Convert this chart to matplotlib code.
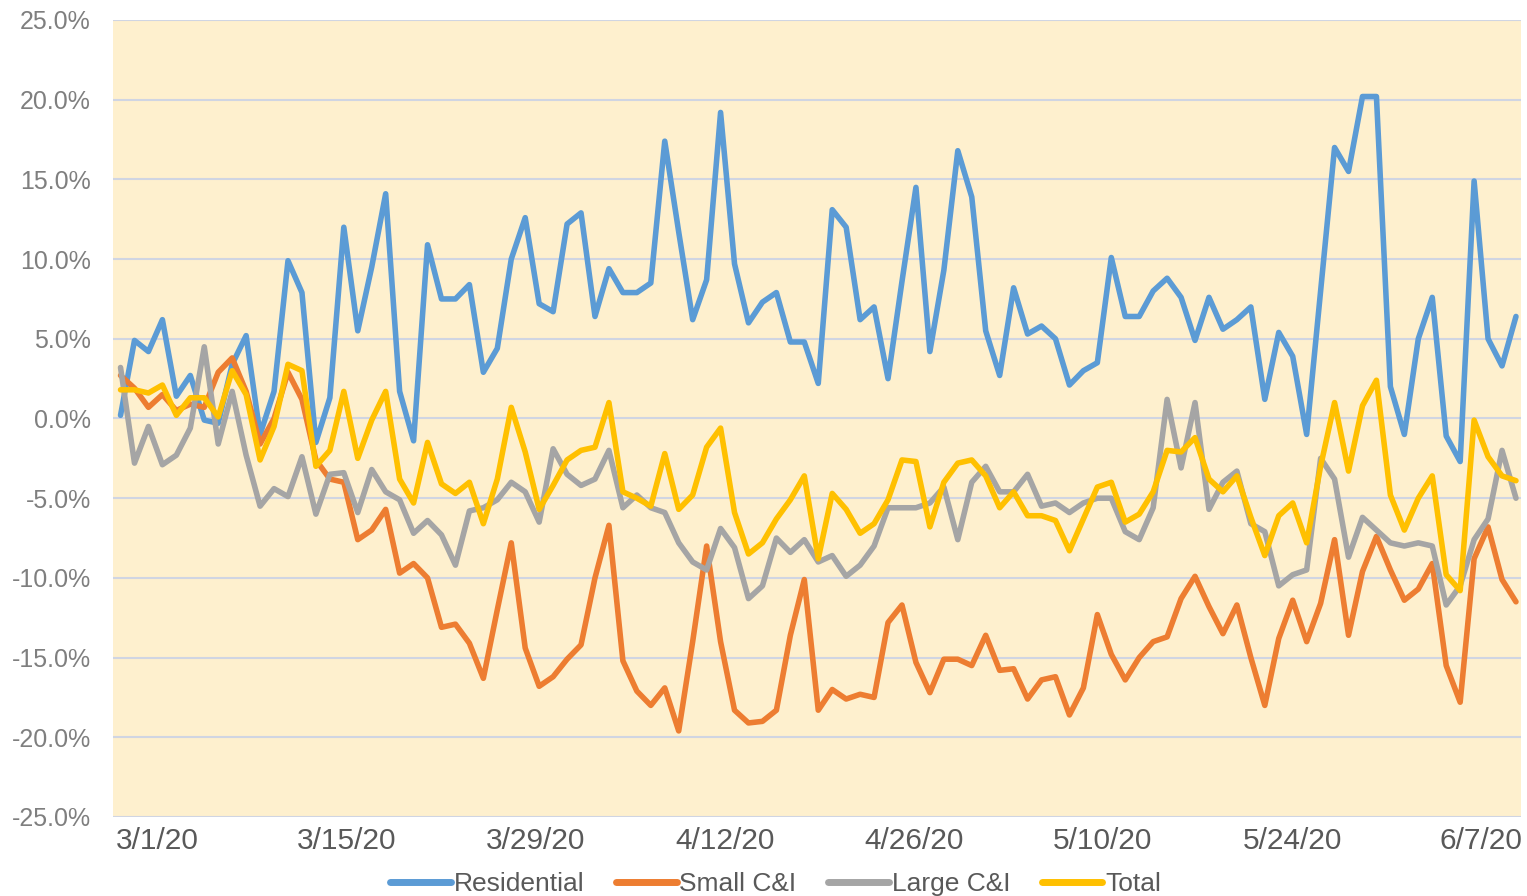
import numpy as np
import matplotlib.pyplot as plt

# daily change vs. baseline (%)
residential = [0.2, 4.9, 4.2, 6.2, 1.4, 2.7, -0.1, -0.3, 3.4, 5.2,
               -1.0, 1.7, 9.9, 7.9, -1.5, 1.3, 12.0, 5.5, 9.5, 14.1,
               1.7, -1.4, 10.9, 7.5, 7.5, 8.4, 2.9, 4.4, 10.0, 12.6,
               7.2, 6.7, 12.2, 12.9, 6.4, 9.4, 7.9, 7.9, 8.5, 17.4,
               11.7, 6.2, 8.7, 19.2, 9.7, 6.0, 7.3, 7.9, 4.8, 4.8,
               2.2, 13.1, 12.0, 6.2, 7.0, 2.5, 8.6, 14.5, 4.2, 9.3,
               16.8, 13.9, 5.5, 2.7, 8.2, 5.3, 5.8, 5.0, 2.1, 3.0,
               3.5, 10.1, 6.4, 6.4, 8.0, 8.8, 7.6, 4.9, 7.6, 5.6,
               6.2, 7.0, 1.2, 5.4, 3.9, -1.0, 8.0, 17.0, 15.5, 20.2,
               20.2, 2.0, -1.0, 5.0, 7.6, -1.1, -2.7, 14.9, 5.0, 3.3,
               6.4]

small_ci = [2.7, 1.9, 0.7, 1.5, 0.5, 0.9, 0.7, 2.9, 3.8, 1.7,
            -1.6, 0.0, 2.9, 1.2, -2.6, -3.8, -4.0, -7.6, -7.0, -5.7,
            -9.7, -9.1, -10.0, -13.1, -12.9, -14.1, -16.3, -12.0, -7.8, -14.4,
            -16.8, -16.2, -15.1, -14.2, -10.0, -6.7, -15.2, -17.1, -18.0, -16.9,
            -19.6, -14.0, -8.0, -14.0, -18.3, -19.1, -19.0, -18.3, -13.6, -10.1,
            -18.3, -17.0, -17.6, -17.3, -17.5, -12.8, -11.7, -15.3, -17.2, -15.1,
            -15.1, -15.5, -13.6, -15.8, -15.7, -17.6, -16.4, -16.2, -18.6, -16.9,
            -12.3, -14.8, -16.4, -15.0, -14.0, -13.7, -11.3, -9.9, -11.8, -13.5,
            -11.7, -15.0, -18.0, -13.8, -11.4, -14.0, -11.6, -7.6, -13.6, -9.6,
            -7.4, -9.5, -11.4, -10.7, -9.1, -15.5, -17.8, -8.8, -6.8, -10.1,
            -11.5]

large_ci = [3.2, -2.8, -0.5, -2.9, -2.3, -0.6, 4.5, -1.6, 1.7, -2.3,
            -5.5, -4.4, -4.9, -2.4, -6.0, -3.5, -3.4, -5.9, -3.2, -4.6,
            -5.1, -7.2, -6.4, -7.3, -9.2, -5.8, -5.6, -5.1, -4.0, -4.6,
            -6.5, -1.9, -3.5, -4.2, -3.8, -2.0, -5.6, -4.8, -5.6, -5.9,
            -7.8, -9.0, -9.5, -6.9, -8.1, -11.3, -10.5, -7.5, -8.4, -7.6,
            -9.0, -8.6, -9.9, -9.2, -8.0, -5.6, -5.6, -5.6, -5.3, -4.3,
            -7.6, -4.0, -3.0, -4.6, -4.6, -3.5, -5.5, -5.3, -5.9, -5.3,
            -5.0, -5.0, -7.1, -7.6, -5.6, 1.2, -3.1, 1.0, -5.7, -4.0,
            -3.3, -6.6, -7.1, -10.5, -9.8, -9.5, -2.5, -3.8, -8.7, -6.2,
            -7.0, -7.8, -8.0, -7.8, -8.0, -11.7, -10.5, -7.6, -6.3, -2.0,
            -5.0]

total = [1.8, 1.8, 1.6, 2.1, 0.2, 1.3, 1.3, 0.1, 3.0, 1.5,
         -2.6, -0.5, 3.4, 3.0, -3.0, -2.0, 1.7, -2.5, -0.1, 1.7,
         -3.8, -5.3, -1.5, -4.1, -4.7, -4.0, -6.6, -3.8, 0.7, -2.1,
         -5.7, -4.2, -2.6, -2.0, -1.8, 1.0, -4.6, -5.0, -5.5, -2.2,
         -5.7, -4.8, -1.8, -0.6, -5.9, -8.5, -7.8, -6.3, -5.1, -3.6,
         -8.8, -4.7, -5.7, -7.2, -6.6, -5.1, -2.6, -2.7, -6.8, -4.0,
         -2.8, -2.6, -3.6, -5.6, -4.6, -6.1, -6.1, -6.4, -8.3, -6.3,
         -4.3, -4.0, -6.5, -6.0, -4.6, -2.0, -2.1, -1.2, -3.8, -4.6,
         -3.6, -6.2, -8.6, -6.1, -5.3, -7.8, -3.0, 1.0, -3.3, 0.8,
         2.4, -4.8, -7.0, -5.0, -3.6, -9.8, -10.8, -0.1, -2.4, -3.6,
         -3.9]

series_names = ['Residential', 'Small C&I', 'Large C&I', 'Total']
date_labels = ['3/1/20', '3/15/20', '3/29/20', '4/12/20',
               '4/26/20', '5/10/20', '5/24/20', '6/7/20']
y_ticks = np.arange(-25, 26, 5)

plt.rcParams['font.family'] = ['Liberation Sans', 'DejaVu Sans']

fig = plt.figure(figsize=(15.27, 8.96), dpi=100)
ax = fig.add_axes([113 / 1527, 1 - 817 / 896, (1521 - 113) / 1527, (817 - 20) / 896])
ax.set_facecolor('#FEF0CE')

x = np.arange(len(residential))
colors = ['#5B9BD5', '#ED7D31', '#A5A5A5', '#FFC000']
for vals, name, c in zip([residential, small_ci, large_ci, total], series_names, colors):
    ax.plot(x, vals, color=c, lw=4, label=name,
            solid_joinstyle='round', solid_capstyle='round')

ax.set_xlim(-0.54, len(x) - 1 + 0.36)
ax.set_ylim(-25, 25)
ax.set_yticks(y_ticks)
ax.set_yticklabels([f'{v:.1f}%' for v in y_ticks])
ax.yaxis.grid(True, color='#D0D5E2', lw=1.5)
ax.set_axisbelow(True)

# labels sit a bit right of the first point, every ~13.5 points
tick_pos = 2.65 + 13.55 * np.arange(len(date_labels))
ax.set_xticks(tick_pos)
ax.set_xticklabels(date_labels)
ax.tick_params(axis='x', length=0, pad=7, labelsize=21.5, labelcolor='#595959')
ax.tick_params(axis='y', length=0, pad=16, labelsize=18, labelcolor='#7F7F7F')
for s in ax.spines.values():
    s.set_visible(False)

leg = fig.legend(loc='center', bbox_to_anchor=(0.508, 0.0134), ncol=4, frameon=False,
                 fontsize=19, handlelength=2.3, handletextpad=0.1, columnspacing=1.2,
                 labelcolor='#595959')
for line in leg.get_lines():
    line.set_linewidth(5)

fig.savefig('out.png', dpi=100)
